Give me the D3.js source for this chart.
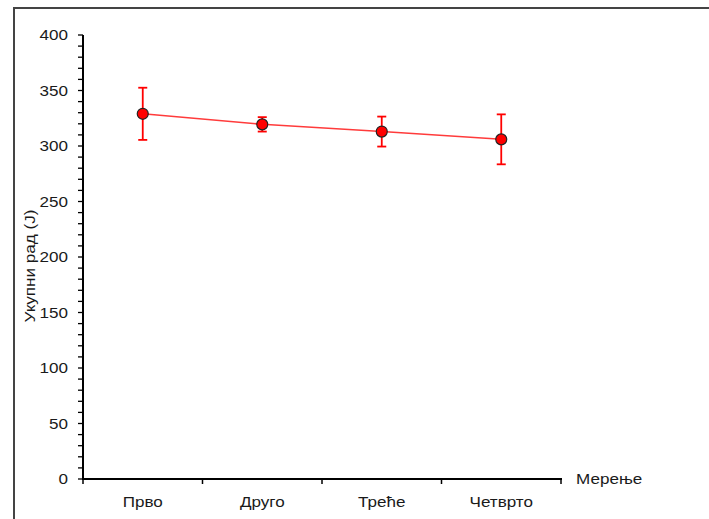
<!DOCTYPE html>
<html><head><meta charset="utf-8">
<script src="https://cdn.jsdelivr.net/npm/d3@7/dist/d3.min.js"></script>
<style>body{margin:0;background:#fff}svg{display:block}text{font-family:"Liberation Sans",Arial,sans-serif}</style>
</head><body>
<svg id="c" width="709" height="519"></svg>
<script>
const categories = ["Прво", "Друго", "Треће", "Четврто"];
const means = [329, 319.5, 313, 306];
const errors = [23.5, 6.5, 13.5, 22.5];
const yTicks = [0, 50, 100, 150, 200, 250, 300, 350, 400];
const yTitle = "Укупни рад (J)";
const xTitle = "Мерење";

const SX = 1.22, FS = 14;
const svg = d3.select("#c");
svg.append("path").attr("d","M14,519 V8 H709").attr("fill","none").attr("stroke","#444").attr("stroke-width",2);

const x = d3.scaleBand().domain(categories).range([83, 561]);
const y = d3.scaleLinear().domain([0, 400]).range([479, 35]);

function label(g, tx, ty, anchor, rot) {
  return g.append("text")
    .attr("transform", `translate(${tx},${ty})` + (rot ? ` rotate(${rot})` : "") + ` scale(${SX},1)`)
    .attr("text-anchor", anchor).attr("font-size", FS).attr("fill", "#1a1a1a");
}

// y axis
const ya = svg.append("g");
ya.append("line").attr("x1",83).attr("x2",83).attr("y1",y(0)+1).attr("y2",y(400)).attr("stroke","#000").attr("stroke-width",2);
ya.selectAll("line.m").data(d3.range(0,401,10)).join("line").attr("class","m")
  .attr("x1",78).attr("x2",83).attr("y1",d=>y(d)).attr("y2",d=>y(d)).attr("stroke","#000").attr("stroke-width",1.3);
yTicks.forEach(t => label(ya, 68, y(t) + 5, "end").text(t));

// x axis
const xa = svg.append("g");
xa.append("line").attr("x1",82).attr("x2",562).attr("y1",y(0)).attr("y2",y(0)).attr("stroke","#000").attr("stroke-width",2);
const bounds = categories.map(c=>x(c)).concat([x(categories[categories.length-1])+x.bandwidth()]);
xa.selectAll("line.t").data(bounds).join("line").attr("class","t")
  .attr("x1",d=>d).attr("x2",d=>d).attr("y1",y(0)).attr("y2",y(0)+5).attr("stroke","#000").attr("stroke-width",1.5);
categories.forEach(c => label(xa, x(c)+x.bandwidth()/2, y(0)+28, "middle").text(c));

label(svg, 576, y(0)+5, "start").text(xTitle);
label(svg, 35, 266, "middle", -90).text(yTitle);

const cx = d => x(d)+x.bandwidth()/2;
const data = categories.map((c,i)=>({c, m:means[i], e:errors[i]}));

svg.append("path").datum(data).attr("fill","none").attr("stroke","#ff3b3b").attr("stroke-width",1.5)
  .attr("d", d3.line().x(d=>cx(d.c)).y(d=>y(d.m)));

const eb = svg.append("g").attr("stroke","#ff0000").attr("stroke-width",1.8);
data.forEach(d=>{
  eb.append("line").attr("x1",cx(d.c)).attr("x2",cx(d.c)).attr("y1",y(d.m+d.e)).attr("y2",y(d.m-d.e));
  eb.append("line").attr("x1",cx(d.c)-4.5).attr("x2",cx(d.c)+4.5).attr("y1",y(d.m+d.e)).attr("y2",y(d.m+d.e));
  eb.append("line").attr("x1",cx(d.c)-4.5).attr("x2",cx(d.c)+4.5).attr("y1",y(d.m-d.e)).attr("y2",y(d.m-d.e));
});
svg.selectAll("circle").data(data).join("circle").attr("cx",d=>cx(d.c)).attr("cy",d=>y(d.m)).attr("r",5.5)
  .attr("fill","#ff0000").attr("stroke","#222").attr("stroke-width",1.2);
</script>
</body></html>
